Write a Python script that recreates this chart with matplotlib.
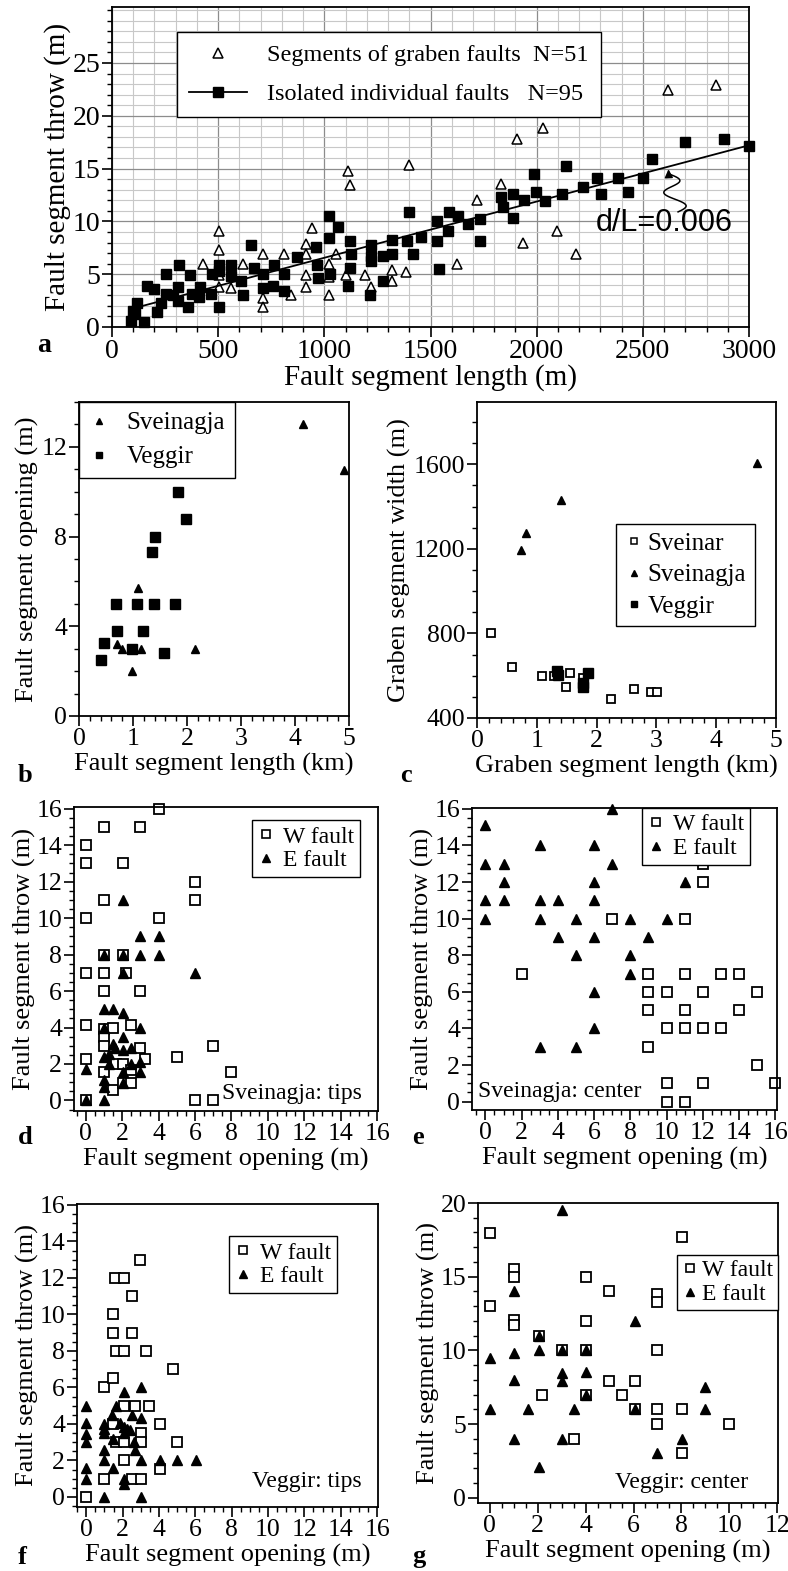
import matplotlib
matplotlib.use("Agg")
import matplotlib.pyplot as plt
from matplotlib.lines import Line2D
from matplotlib.ticker import MultipleLocator
import numpy as np

plt.rcParams['font.family'] = ['Liberation Serif', 'DejaVu Serif']

# ---- panel a: throw vs length ----
graben_len = [505, 505, 505, 505, 428, 562, 615, 712, 712, 712, 812, 841, 913, 913, 913, 913, 942,
              1024, 1024, 1024, 1053, 1113, 1120, 1101, 1192, 1221, 1317, 1317, 1385, 1401, 1625,
              1721, 1834, 1906, 1935, 2031, 2094, 2183, 2620, 2844]
graben_throw = [9.1, 7.3, 4.9, 3.8, 6.0, 3.7, 6.0, 6.9, 2.7, 1.9, 6.9, 3.0, 7.9, 6.9, 4.9, 3.8, 9.4,
                6.0, 4.7, 3.0, 6.9, 14.8, 13.4, 4.9, 4.9, 3.8, 5.4, 4.4, 5.2, 15.3, 6.0,
                12.0, 13.5, 17.8, 8.0, 18.8, 9.1, 6.9, 22.4, 22.9]

iso_len = [100, 90, 110, 120, 150, 165, 200, 210, 230, 255,
           255, 285, 310, 315, 310, 360, 368, 375, 415, 410,
           465, 470, 505, 505, 505, 560, 560, 608, 615, 655,
           668, 712, 712, 760, 764, 812, 812, 873, 961, 966,
           968, 1021, 1021, 1029, 1065, 1120, 1125, 1120, 1113, 1221,
           1221, 1221, 1216, 1274, 1274, 1317, 1317, 1389, 1401, 1418,
           1457, 1529, 1529, 1538, 1582, 1589, 1630, 1678, 1731, 1731,
           1834, 1841, 1887, 1887, 1942, 1986, 1995, 2038, 2118, 2139,
           2219, 2284, 2303, 2382, 2428, 2500, 2543, 2700, 2880, 3000]
iso_throw = [1.5, 0.6, 1.2, 2.3, 0.5, 3.9, 3.6, 1.4, 2.3, 5.0,
             3.1, 3.0, 2.5, 5.9, 3.8, 1.9, 4.9, 3.1, 3.8, 2.8,
             3.1, 5.0, 5.9, 5.3, 1.9, 5.9, 4.8, 4.4, 3.0, 7.8,
             5.6, 5.0, 3.7, 3.9, 5.9, 5.0, 3.4, 6.6, 7.6, 5.9,
             4.6, 10.5, 8.4, 5.0, 9.5, 8.1, 6.9, 5.6, 3.9, 7.8,
             6.7, 6.25, 3.0, 6.7, 4.4, 8.2, 6.9, 8.1, 10.9, 6.9,
             8.5, 10.0, 8.1, 5.5, 9.1, 10.9, 10.5, 9.8, 10.2, 8.1,
             12.3, 11.4, 12.6, 10.3, 12.0, 14.5, 12.75, 11.9, 12.6, 15.25,
             13.3, 14.1, 12.6, 14.1, 12.75, 14.1, 15.9, 17.5, 17.8, 17.1]

# ---- panel b: opening vs length ----
sv_len_b = [4.14, 4.9, 1.10, 0.70, 0.80, 1.14, 2.14, 0.98]
sv_open_b = [13.0, 10.95, 5.7, 3.2, 3.0, 3.0, 3.0, 2.0]
vg_len_b = [0.40, 0.47, 0.68, 0.70, 0.99, 1.08, 1.19, 1.35, 1.40, 1.38, 1.57, 1.77, 1.84, 1.98]
vg_open_b = [2.5, 3.25, 5.0, 3.8, 3.0, 5.0, 3.8, 7.3, 8.0, 5.0, 2.8, 5.0, 10.0, 8.8]

# ---- panel c: graben width vs length ----
sr_len_c = [0.23, 0.59, 1.09, 1.28, 1.56, 1.49, 1.77, 2.24, 2.63, 2.91, 3.01]
sr_wid_c = [801, 639, 597, 597, 612, 546, 589, 490, 538, 521, 521]
sv_len_c = [0.73, 0.82, 1.41, 4.69]
sv_wid_c = [1194, 1276, 1430, 1606]
vg_len_c = [1.34, 1.35, 1.78, 1.78, 1.86]
vg_wid_c = [620, 604, 545, 565, 612]

# ---- panel d: Sveinagja tips ----
d_w_open = [0, 0, 0, 0, 0, 0, 0, 1, 1, 1, 1, 1, 1, 1, 1, 1, 1.47, 1.47, 1.65,
            2.05, 2.05, 2.2, 2.05, 2.05, 2.5, 2.5, 2.5, 3, 3, 3, 3.25, 4, 4, 5, 6, 6, 6, 7, 7, 8]
d_w_throw = [14, 13, 10, 7, 4.15, 2.3, 0, 15, 11, 8, 7, 6, 3.9, 3.5, 3.0, 1.55, 4.0, 0.55, 2.0,
             13, 8, 7, 2.0, 0.95, 4.15, 1.65, 0.95, 15, 6, 2.85, 2.3, 16, 10, 2.4, 12, 11, 0, 3, 0, 1.55]
d_e_open = [0, 0, 1, 1, 1, 1, 1, 1, 1, 1.25, 1.3, 1.47, 1.5, 1.6,
            2.05, 2.05, 2.05, 2.05, 2.05, 2.05, 2.05, 2.05, 2.5, 2.5, 3, 3, 3, 3, 3, 4, 4, 6]
d_e_throw = [1.75, 0, 8, 5, 4, 2.4, 1.1, 0.75, 0, 2.0, 2.55, 5.0, 3.1, 2.85,
             11, 8, 7, 4.8, 3.5, 2.75, 1.55, 0.95, 2.85, 2.0, 9, 8, 4, 2.1, 1.55, 9, 8, 7]

# ---- panel e: Sveinagja center ----
e_w_open = [2, 7, 9, 9, 9, 9, 10, 10, 10, 10, 11, 11, 11, 11, 11, 12, 12, 12, 12, 12, 13, 13, 14, 14, 15, 15, 16]
e_w_throw = [7, 10, 7, 6, 5, 3, 6, 4, 1, 0, 10, 7, 5, 4, 0, 13, 12, 6, 4, 1, 7, 4, 7, 5, 6, 2, 1]
e_e_open = [0, 0, 0, 0, 1, 1, 1, 3, 3, 3, 3, 4, 4, 5, 5, 5, 6, 6, 6, 6, 6, 6, 7, 7, 8, 8, 8, 9, 10, 11]
e_e_throw = [15.1, 13, 11, 10, 13, 12, 11, 14, 11, 10, 3, 11, 9, 10, 8, 3, 14, 12, 11, 9, 6, 4, 16, 13,
             10, 8, 7, 9, 10, 12]

# ---- panel f: Veggir tips ----
f_w_open = [0, 0.95, 0.95, 1.47, 1.47, 1.47, 1.56, 1.65, 1.65, 1.47, 2.05, 2.05, 2.05, 2.05, 2.05,
            2.53, 2.53, 2.53, 2.7, 2.94, 3.03, 3.03, 3.03, 3.3, 3.45, 4.04, 4.04, 4.77, 5.0]
f_w_throw = [0, 6.03, 1.0, 6.5, 10, 9, 12, 8, 3, 4.0, 12, 8, 5, 3, 2.05,
             11, 9, 1.0, 5, 13, 3.5, 3.0, 1.0, 8, 5, 4.0, 1.55, 7.0, 3.0]
f_e_open = [0, 0, 0, 0, 0, 0, 0.95, 0.95, 0.95, 0.95, 0.95, 0.95, 1.43, 1.47, 1.47, 1.65, 1.87,
            2.05, 2.05, 2.05, 2.05, 2.05, 2.23, 2.4, 2.53, 2.6, 2.7, 3.03, 3.03, 3.03, 3.03, 4.04, 5.0, 6.05]
f_e_throw = [5, 4.05, 3.45, 3.0, 1.6, 1.0, 4.0, 3.75, 3.5, 2.55, 2.05, 0, 4.5, 3.2, 1.6, 5, 4.05,
             5.75, 3.85, 3.5, 1.0, 0.7, 3.75, 3.65, 4.5, 3.0, 2.55, 6.0, 4.35, 2.05, 0, 2.05, 2.05, 2.05]

# ---- panel g: Veggir center ----
g_w_open = [0, 0, 1, 1, 1, 1, 2.06, 2.18, 3.02, 3.52, 4.03, 4.03, 4.03, 4.03, 4.98, 4.98, 5.53,
            6.05, 6.05, 6.98, 6.98, 6.98, 6.98, 6.98, 8.04, 8.04, 8.04, 10.0]
g_w_throw = [17.95, 13, 15.55, 15, 12.05, 11.7, 11, 7, 10, 3.95, 15, 12, 10, 7, 14, 7.95, 7,
             7.95, 6, 13.8, 13.3, 10, 6, 5, 17.7, 6, 3.0, 5]
g_e_open = [0, 0, 1, 1, 1, 1, 1.6, 2.06, 2.06, 2.06, 3.02, 3.02, 3.02, 3.02, 3.02, 3.52,
            4.03, 4.03, 4.03, 6.05, 6.05, 6.98, 8.04, 9.0, 9.0]
g_e_throw = [9.45, 6, 14, 9.8, 8, 3.95, 6, 10, 11, 2.1, 19.5, 10, 8.45, 7.9, 3.95, 6,
             10, 8.55, 7, 12, 6, 3.0, 3.95, 7.5, 6]

W, H = 788, 1571
fig = plt.figure(figsize=(W / 100, H / 100), dpi=100)

TICK_FS = 18.5
LAB_FS = 19
LEG_FS = 17


def axes_px(l, t, r, b):
    # pixel box (left, top, right, bottom) -> figure fraction
    return fig.add_axes([l / W, 1 - b / H, (r - l) / W, (b - t) / H])


def style(ax, xmaj, xmin, ymaj, ymin, fs=TICK_FS):
    ax.xaxis.set_major_locator(MultipleLocator(xmaj))
    ax.xaxis.set_minor_locator(MultipleLocator(xmin))
    ax.yaxis.set_major_locator(MultipleLocator(ymaj))
    ax.yaxis.set_minor_locator(MultipleLocator(ymin))
    ax.tick_params(which='major', direction='out', length=7, width=1.2, labelsize=fs, pad=1.5)
    ax.tick_params(which='minor', direction='out', length=3.5, width=1.0)
    for s in ax.spines.values():
        s.set_linewidth(1.3)


def open_sq(ax, x, y, ms=6.5):
    return ax.plot(x, y, 's', ms=ms, mfc='white', mec='black', mew=1.3, ls='none', clip_on=False)[0]


def tri(ax, x, y, ms=7.5):
    return ax.plot(x, y, '^', ms=ms, color='black', ls='none', clip_on=False)[0]


def legend(ax, handles, labels, fs=LEG_FS, **kw):
    opts = dict(handletextpad=0.35, handlelength=0.7, borderpad=0.25, labelspacing=0.1)
    opts.update(kw)
    leg = ax.legend(handles, labels, fontsize=fs, frameon=True, fancybox=False,
                    edgecolor='black', framealpha=1, borderaxespad=0, **opts)
    leg.get_frame().set_linewidth(1.0)
    return leg


WF = Line2D([], [], marker='s', ms=6, mfc='white', mec='black', mew=1.2, ls='none')
EF = Line2D([], [], marker='^', ms=6, color='black', ls='none')

# panel a
ax = axes_px(112, 7, 749, 327)
ax.set_xlim(0, 3000)
ax.set_ylim(0, 30.3)
style(ax, 500, 100, 5, 1, fs=20)
ax.set_yticks([0, 5, 10, 15, 20, 25])
ax.grid(which='minor', color='#c8c8c8', lw=0.8)
ax.grid(which='major', color='#8c8c8c', lw=0.9)
ax.set_axisbelow(True)
h1 = ax.plot(graben_len, graben_throw, '^', ms=6.5, mfc='white', mec='black', mew=1.1, ls='none')[0]
ax.plot(iso_len, iso_throw, 's', ms=7.3, color='black', ls='none', clip_on=False)
k, c0 = np.polyfit(iso_len, iso_throw, 1)
xs = np.array([min(iso_len), max(iso_len)])
ax.plot(xs, k * xs + c0, '-', color='black', lw=1.3)
h2 = Line2D([], [], color='black', lw=1.3, marker='s', ms=7.3)
ax.legend([h1, h2], ['Segments of graben faults  N=51', 'Isolated individual faults   N=95'],
          loc='upper left', bbox_to_anchor=(0.102, 0.922), fontsize=17.5, fancybox=False,
          edgecolor='black', framealpha=1, borderaxespad=0, handlelength=2.4, handletextpad=0.8,
          borderpad=0.5, labelspacing=0.7).get_frame().set_linewidth(1.0)
ax.text(2280, 9.85, 'd/L=0.006', family='Liberation Sans', fontsize=22, va='center')
# wavy leader from the label up to the line
ts = np.linspace(0, 1, 60)
ax.plot(2666 - 44 * ts + 45 * np.sin(3 * np.pi * ts), 10.9 + 3.6 * ts, color='black', lw=1.1)
ax.annotate('', xy=(2620, 15.2), xytext=(2622, 14.4),
            arrowprops=dict(arrowstyle='-|>', lw=1.1, color='black', mutation_scale=12))
ax.set_xlabel('Fault segment length (m)', fontsize=21, labelpad=0)
ax.set_ylabel('Fault segment throw (m)', fontsize=21, labelpad=1)
fig.text(37 / W, 1 - 345 / H, 'a', fontsize=20, weight='bold', va='center')

# panel b
ax = axes_px(79, 402, 349, 716)
ax.set_xlim(0, 5)
ax.set_ylim(0, 14)
style(ax, 1, 0.2, 4, 1)
tri(ax, sv_len_b, sv_open_b, ms=6)
ax.plot(vg_len_b, vg_open_b, 's', ms=7.5, color='black', ls='none')
legend(ax, [Line2D([], [], marker='^', ms=5, color='black', ls='none'),
            Line2D([], [], marker='s', ms=5, color='black', ls='none')],
       ['Sveinagja', 'Veggir'], fs=18, loc='upper left', bbox_to_anchor=(0, 1),
       handlelength=0.8, handletextpad=0.7, borderpad=0.4, labelspacing=0.45)
ax.set_xlabel('Fault segment length (km)', fontsize=LAB_FS, labelpad=2)
ax.set_ylabel('Fault segment opening (m)', fontsize=LAB_FS, labelpad=2)
fig.text(18 / W, 1 - 776 / H, 'b', fontsize=19, weight='bold', va='center')

# panel c
ax = axes_px(477, 402, 776, 718)
ax.set_xlim(0, 5)
ax.set_ylim(400, 1895)
style(ax, 1, 0.2, 400, 100)
open_sq(ax, sr_len_c, sr_wid_c, ms=5.5)
tri(ax, sv_len_c, sv_wid_c, ms=6)
ax.plot(vg_len_c, vg_wid_c, 's', ms=6.5, color='black', ls='none')
legend(ax, [Line2D([], [], marker='s', ms=5, mfc='white', mec='black', mew=1.1, ls='none'),
            Line2D([], [], marker='^', ms=5, color='black', ls='none'),
            Line2D([], [], marker='s', ms=5, color='black', ls='none')],
       ['Sveinar', 'Sveinagja', 'Veggir'], fs=18, loc='upper left', bbox_to_anchor=(0.465, 0.614),
       handletextpad=0.2, borderpad=0.35, labelspacing=0.35)
ax.set_xlabel('Graben segment length (km)', fontsize=LAB_FS, labelpad=2)
ax.set_ylabel('Graben segment width (m)', fontsize=LAB_FS, labelpad=2)
fig.text(400 / W, 1 - 776 / H, 'c', fontsize=19, weight='bold', va='center')

# panel d
ax = axes_px(74, 807, 378, 1111)
ax.set_xlim(-0.65, 16.05)
ax.set_ylim(-0.58, 16.1)
style(ax, 2, 0.5, 2, 0.5)
open_sq(ax, d_w_open, d_w_throw)
tri(ax, d_e_open, d_e_throw)
legend(ax, [WF, EF], ['W fault', 'E fault'], loc='upper left', bbox_to_anchor=(0.586, 0.957))
ax.text(0.947, 0.059, 'Sveinagja: tips', transform=ax.transAxes, fontsize=LEG_FS, ha='right', va='center')
ax.set_xlabel('Fault segment opening (m)', fontsize=LAB_FS, labelpad=2)
ax.set_ylabel('Fault segment throw (m)', fontsize=LAB_FS, labelpad=0)
fig.text(18 / W, 1 - 1137 / H, 'd', fontsize=19, weight='bold', va='center')

# panel e
ax = axes_px(472, 808, 777, 1110)
ax.set_xlim(-0.74, 16.1)
ax.set_ylim(-0.46, 16.05)
style(ax, 2, 0.5, 2, 0.5)
open_sq(ax, e_w_open, e_w_throw)
tri(ax, e_e_open, e_e_throw)
legend(ax, [WF, EF], ['W fault', 'E fault'], loc='upper left', bbox_to_anchor=(0.557, 1.0))
ax.text(0.02, 0.06, 'Sveinagja: center', transform=ax.transAxes, fontsize=LEG_FS, ha='left', va='center')
ax.set_xlabel('Fault segment opening (m)', fontsize=LAB_FS, labelpad=2)
ax.set_ylabel('Fault segment throw (m)', fontsize=LAB_FS, labelpad=0)
fig.text(412 / W, 1 - 1137 / H, 'e', fontsize=19, weight='bold', va='center')

# panel f
ax = axes_px(77, 1204, 378, 1507)
ax.set_xlim(-0.51, 16.05)
ax.set_ylim(-0.55, 16.05)
style(ax, 2, 0.5, 2, 0.5)
open_sq(ax, f_w_open, f_w_throw)
tri(ax, f_e_open, f_e_throw)
legend(ax, [WF, EF], ['W fault', 'E fault'], loc='upper left', bbox_to_anchor=(0.505, 0.894))
ax.text(0.947, 0.083, 'Veggir: tips', transform=ax.transAxes, fontsize=LEG_FS, ha='right', va='center')
ax.set_xlabel('Fault segment opening (m)', fontsize=LAB_FS, labelpad=2)
ax.set_ylabel('Fault segment throw (m)', fontsize=LAB_FS, labelpad=0)
fig.text(18 / W, 1 - 1557 / H, 'f', fontsize=19, weight='bold', va='center')

# panel g
ax = axes_px(478, 1203, 778, 1503)
ax.set_xlim(-0.49, 12.03)
ax.set_ylim(-0.36, 20)
style(ax, 2, 0.5, 5, 1)
open_sq(ax, g_w_open, g_w_throw)
tri(ax, g_e_open, g_e_throw)
legend(ax, [WF, EF], ['W fault', 'E fault'], loc='upper right', bbox_to_anchor=(1.0, 0.827),
       handletextpad=0.15, borderpad=0.2)
ax.text(0.9, 0.067, 'Veggir: center', transform=ax.transAxes, fontsize=LEG_FS, ha='right', va='center')
ax.set_xlabel('Fault segment opening (m)', fontsize=LAB_FS, labelpad=2)
ax.set_ylabel('Fault segment throw (m)', fontsize=LAB_FS, labelpad=0)
fig.text(412 / W, 1 - 1557 / H, 'g', fontsize=19, weight='bold', va='center')

fig.savefig('out.png', dpi=100)
